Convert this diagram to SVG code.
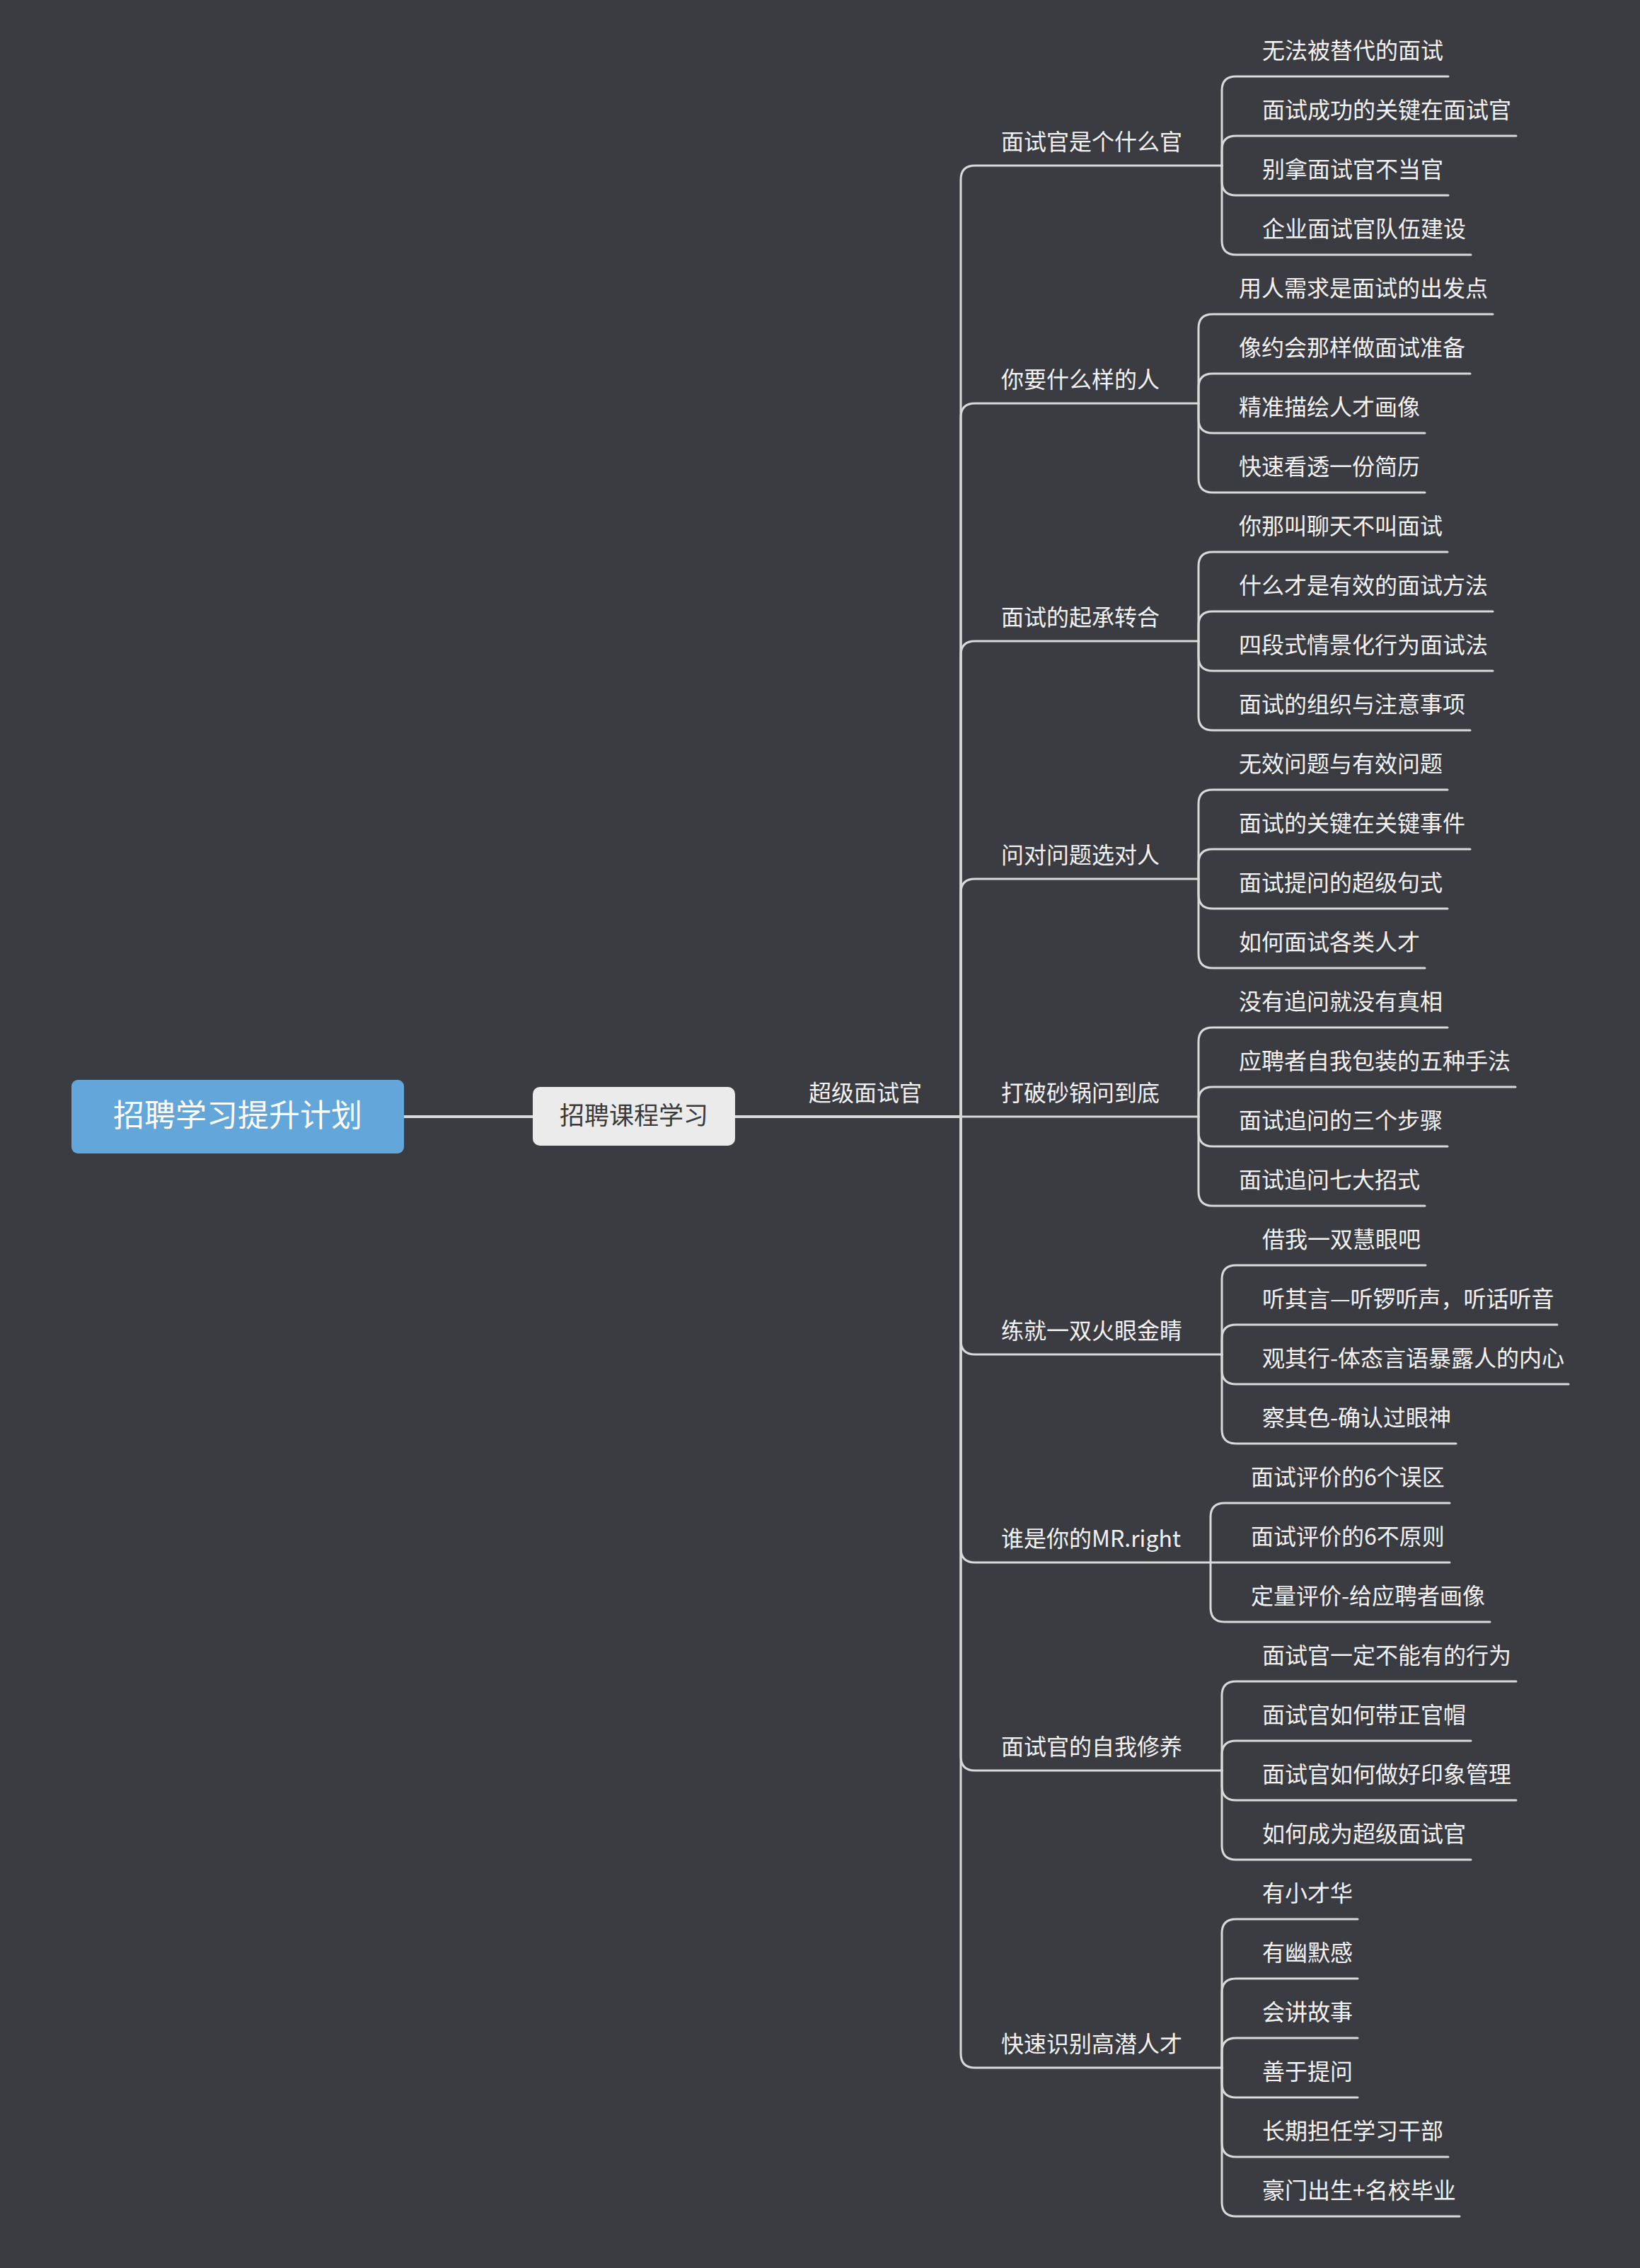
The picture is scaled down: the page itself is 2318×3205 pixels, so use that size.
<svg xmlns="http://www.w3.org/2000/svg" width="2318" height="3205" viewBox="0 0 2318 3205">
<style>
text{font-family:"Noto Sans CJK SC","Noto Sans",sans-serif;}
.t{font-size:32px;fill:#f2f2f2;}
.ln{fill:none;stroke:#d9d9d9;stroke-width:3;stroke-linecap:round;}
.main{fill:none;stroke:#d9d9d9;stroke-width:4;}
</style>
<rect width="2318" height="3205" fill="#3b3c41"/>
<g id="connectors">
<path class="main" d="M571 1578H753M1039 1578H1358"/>
<g id="spine">
<path class="ln" d="M1358 1578V254Q1358 234 1378 234H1727"/>
<path class="ln" d="M1358 1578V590Q1358 570 1378 570H1694"/>
<path class="ln" d="M1358 1578V926Q1358 906 1378 906H1694"/>
<path class="ln" d="M1358 1578V1262Q1358 1242 1378 1242H1694"/>
<path class="ln" d="M1358 1578H1694"/>
<path class="ln" d="M1358 1578V1894Q1358 1914 1378 1914H1727"/>
<path class="ln" d="M1358 1578V2188Q1358 2208 1378 2208H1711"/>
<path class="ln" d="M1358 1578V2482Q1358 2502 1378 2502H1727"/>
<path class="ln" d="M1358 1578V2902Q1358 2922 1378 2922H1727"/>
</g>
<g id="b1-links">
<path class="ln" d="M1727 234V128Q1727 108 1747 108H2047"/>
<path class="ln" d="M1727 234V212Q1727 192 1747 192H2143"/>
<path class="ln" d="M1727 234V256Q1727 276 1747 276H2047"/>
<path class="ln" d="M1727 234V340Q1727 360 1747 360H2079"/>
</g>
<g id="b2-links">
<path class="ln" d="M1694 570V464Q1694 444 1714 444H2110"/>
<path class="ln" d="M1694 570V548Q1694 528 1714 528H2078"/>
<path class="ln" d="M1694 570V592Q1694 612 1714 612H2014"/>
<path class="ln" d="M1694 570V676Q1694 696 1714 696H2014"/>
</g>
<g id="b3-links">
<path class="ln" d="M1694 906V800Q1694 780 1714 780H2046"/>
<path class="ln" d="M1694 906V884Q1694 864 1714 864H2110"/>
<path class="ln" d="M1694 906V928Q1694 948 1714 948H2110"/>
<path class="ln" d="M1694 906V1012Q1694 1032 1714 1032H2078"/>
</g>
<g id="b4-links">
<path class="ln" d="M1694 1242V1136Q1694 1116 1714 1116H2046"/>
<path class="ln" d="M1694 1242V1220Q1694 1200 1714 1200H2078"/>
<path class="ln" d="M1694 1242V1264Q1694 1284 1714 1284H2046"/>
<path class="ln" d="M1694 1242V1348Q1694 1368 1714 1368H2014"/>
</g>
<g id="b5-links">
<path class="ln" d="M1694 1578V1472Q1694 1452 1714 1452H2046"/>
<path class="ln" d="M1694 1578V1556Q1694 1536 1714 1536H2142"/>
<path class="ln" d="M1694 1578V1600Q1694 1620 1714 1620H2046"/>
<path class="ln" d="M1694 1578V1684Q1694 1704 1714 1704H2014"/>
</g>
<g id="b6-links">
<path class="ln" d="M1727 1914V1808Q1727 1788 1747 1788H2015"/>
<path class="ln" d="M1727 1914V1892Q1727 1872 1747 1872H2201"/>
<path class="ln" d="M1727 1914V1936Q1727 1956 1747 1956H2217"/>
<path class="ln" d="M1727 1914V2020Q1727 2040 1747 2040H2058"/>
</g>
<g id="b7-links">
<path class="ln" d="M1711 2208V2144Q1711 2124 1731 2124H2049"/>
<path class="ln" d="M1711 2208H2049"/>
<path class="ln" d="M1711 2208V2272Q1711 2292 1731 2292H2106"/>
</g>
<g id="b8-links">
<path class="ln" d="M1727 2502V2396Q1727 2376 1747 2376H2143"/>
<path class="ln" d="M1727 2502V2480Q1727 2460 1747 2460H2079"/>
<path class="ln" d="M1727 2502V2524Q1727 2544 1747 2544H2143"/>
<path class="ln" d="M1727 2502V2608Q1727 2628 1747 2628H2079"/>
</g>
<g id="b9-links">
<path class="ln" d="M1727 2922V2732Q1727 2712 1747 2712H1919"/>
<path class="ln" d="M1727 2922V2816Q1727 2796 1747 2796H1919"/>
<path class="ln" d="M1727 2922V2900Q1727 2880 1747 2880H1919"/>
<path class="ln" d="M1727 2922V2944Q1727 2964 1747 2964H1919"/>
<path class="ln" d="M1727 2922V3028Q1727 3048 1747 3048H2047"/>
<path class="ln" d="M1727 2922V3112Q1727 3132 1747 3132H2063"/>
</g>
</g>
<g id="root">
<rect x="101" y="1526" width="470" height="104" rx="9" fill="#62a6da"/>
<text x="336" y="1592" font-size="44" fill="#ffffff" text-anchor="middle">招聘学习提升计划</text>
</g>
<g id="course">
<rect x="753" y="1536" width="286" height="83" rx="10" fill="#ebebeb"/>
<text x="896" y="1589" font-size="35" fill="#3a3a3a" text-anchor="middle">招聘课程学习</text>
</g>
<g id="super-label"><text class="t" x="1143" y="1556">超级面试官</text></g>
<g id="b1"><text class="t" x="1415" y="212">面试官是个什么官</text></g>
<g id="b2"><text class="t" x="1415" y="548">你要什么样的人</text></g>
<g id="b3"><text class="t" x="1415" y="884">面试的起承转合</text></g>
<g id="b4"><text class="t" x="1415" y="1220">问对问题选对人</text></g>
<g id="b5"><text class="t" x="1415" y="1556">打破砂锅问到底</text></g>
<g id="b6"><text class="t" x="1415" y="1892">练就一双火眼金睛</text></g>
<g id="b7"><text class="t" x="1415" y="2186">谁是你的MR.right</text></g>
<g id="b8"><text class="t" x="1415" y="2480">面试官的自我修养</text></g>
<g id="b9"><text class="t" x="1415" y="2900">快速识别高潜人才</text></g>
<g id="b1-children">
<g id="c0"><text class="t" x="1784" y="83">无法被替代的面试</text></g>
<g id="c1"><text class="t" x="1784" y="167">面试成功的关键在面试官</text></g>
<g id="c2"><text class="t" x="1784" y="251">别拿面试官不当官</text></g>
<g id="c3"><text class="t" x="1784" y="335">企业面试官队伍建设</text></g>
</g>
<g id="b2-children">
<g id="c4"><text class="t" x="1751" y="419">用人需求是面试的出发点</text></g>
<g id="c5"><text class="t" x="1751" y="503">像约会那样做面试准备</text></g>
<g id="c6"><text class="t" x="1751" y="587">精准描绘人才画像</text></g>
<g id="c7"><text class="t" x="1751" y="671">快速看透一份简历</text></g>
</g>
<g id="b3-children">
<g id="c8"><text class="t" x="1751" y="755">你那叫聊天不叫面试</text></g>
<g id="c9"><text class="t" x="1751" y="839">什么才是有效的面试方法</text></g>
<g id="c10"><text class="t" x="1751" y="923">四段式情景化行为面试法</text></g>
<g id="c11"><text class="t" x="1751" y="1007">面试的组织与注意事项</text></g>
</g>
<g id="b4-children">
<g id="c12"><text class="t" x="1751" y="1091">无效问题与有效问题</text></g>
<g id="c13"><text class="t" x="1751" y="1175">面试的关键在关键事件</text></g>
<g id="c14"><text class="t" x="1751" y="1259">面试提问的超级句式</text></g>
<g id="c15"><text class="t" x="1751" y="1343">如何面试各类人才</text></g>
</g>
<g id="b5-children">
<g id="c16"><text class="t" x="1751" y="1427">没有追问就没有真相</text></g>
<g id="c17"><text class="t" x="1751" y="1511">应聘者自我包装的五种手法</text></g>
<g id="c18"><text class="t" x="1751" y="1595">面试追问的三个步骤</text></g>
<g id="c19"><text class="t" x="1751" y="1679">面试追问七大招式</text></g>
</g>
<g id="b6-children">
<g id="c20"><text class="t" x="1784" y="1763">借我一双慧眼吧</text></g>
<g id="c21"><text class="t" x="1784" y="1847">听其言—听锣听声，听话听音</text></g>
<g id="c22"><text class="t" x="1784" y="1931">观其行-体态言语暴露人的内心</text></g>
<g id="c23"><text class="t" x="1784" y="2015">察其色-确认过眼神</text></g>
</g>
<g id="b7-children">
<g id="c24"><text class="t" x="1768" y="2099">面试评价的6个误区</text></g>
<g id="c25"><text class="t" x="1768" y="2183">面试评价的6不原则</text></g>
<g id="c26"><text class="t" x="1768" y="2267">定量评价-给应聘者画像</text></g>
</g>
<g id="b8-children">
<g id="c27"><text class="t" x="1784" y="2351">面试官一定不能有的行为</text></g>
<g id="c28"><text class="t" x="1784" y="2435">面试官如何带正官帽</text></g>
<g id="c29"><text class="t" x="1784" y="2519">面试官如何做好印象管理</text></g>
<g id="c30"><text class="t" x="1784" y="2603">如何成为超级面试官</text></g>
</g>
<g id="b9-children">
<g id="c31"><text class="t" x="1784" y="2687">有小才华</text></g>
<g id="c32"><text class="t" x="1784" y="2771">有幽默感</text></g>
<g id="c33"><text class="t" x="1784" y="2855">会讲故事</text></g>
<g id="c34"><text class="t" x="1784" y="2939">善于提问</text></g>
<g id="c35"><text class="t" x="1784" y="3023">长期担任学习干部</text></g>
<g id="c36"><text class="t" x="1784" y="3107">豪门出生+名校毕业</text></g>
</g>
</svg>
